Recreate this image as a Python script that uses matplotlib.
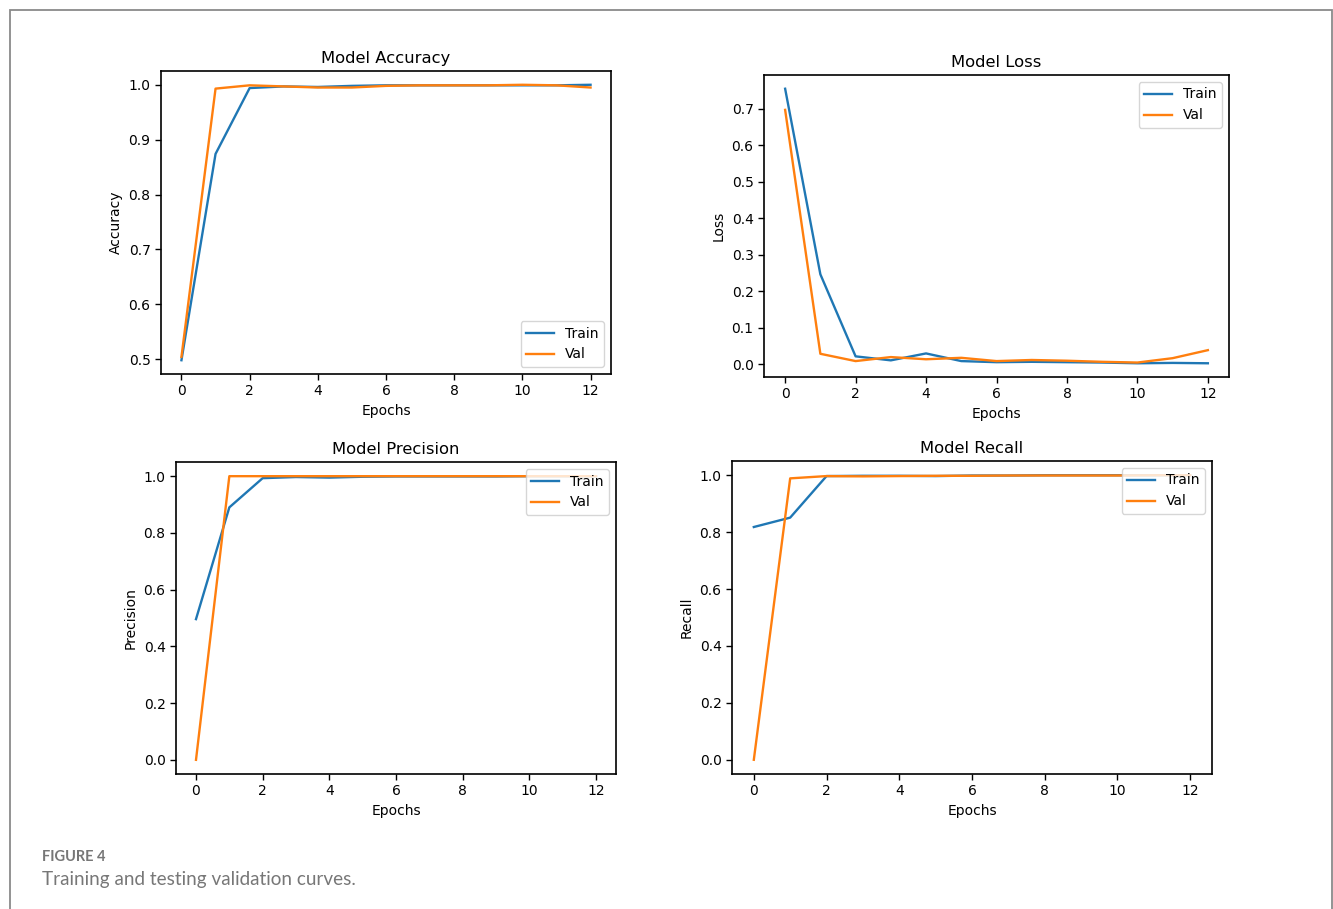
import matplotlib
matplotlib.use("Agg")
import matplotlib.pyplot as plt
from matplotlib.patches import Rectangle

plt.rcParams["font.family"] = ["DejaVu Sans"]

epochs = list(range(13))

acc_train = [0.498, 0.874, 0.994, 0.997, 0.996, 0.998, 0.999, 0.999, 0.999, 0.999, 0.999, 0.999, 1.000]
acc_val   = [0.504, 0.993, 0.999, 0.997, 0.995, 0.995, 0.998, 0.999, 0.999, 0.999, 1.000, 0.999, 0.995]

loss_train = [0.755, 0.246, 0.021, 0.010, 0.029, 0.008, 0.005, 0.006, 0.005, 0.004, 0.002, 0.003, 0.002]
loss_val   = [0.697, 0.028, 0.008, 0.019, 0.013, 0.017, 0.008, 0.011, 0.009, 0.006, 0.004, 0.016, 0.038]

prec_train = [0.496, 0.890, 0.993, 0.997, 0.995, 0.998, 0.999, 0.999, 0.999, 0.999, 1.000, 1.000, 1.000]
prec_val   = [0.000, 1.000, 1.000, 1.000, 1.000, 1.000, 1.000, 1.000, 1.000, 1.000, 1.000, 1.000, 1.000]

rec_train = [0.818, 0.851, 0.997, 0.998, 0.998, 0.997, 0.999, 0.999, 1.000, 1.000, 1.000, 1.000, 1.000]
rec_val   = [0.000, 0.989, 0.997, 0.996, 0.997, 0.998, 0.998, 0.999, 0.999, 0.999, 0.999, 1.000, 1.000]

panels = [
    ("Model Accuracy", "Accuracy", acc_train, acc_val, "lower right", (161, 71, 611, 374)),
    ("Model Loss", "Loss", loss_train, loss_val, "upper right", (764, 75, 1229, 377)),
    ("Model Precision", "Precision", prec_train, prec_val, "upper right", (176, 462, 616, 774)),
    ("Model Recall", "Recall", rec_train, rec_val, "upper right", (732, 461, 1212, 774)),
]

W, H = 1333, 909
fig = plt.figure(figsize=(W / 100, H / 100), dpi=100)

# outer border
fig.add_artist(Rectangle((10 / W, -0.05), (1332 - 10) / W, (H - 10) / H + 0.05,
                         transform=fig.transFigure, fill=False,
                         edgecolor="#8a8a8a", linewidth=1.3))

for title, ylabel, tr, va, loc, (l, t, r, b) in panels:
    ax = fig.add_axes([l / W, 1 - b / H, (r - l) / W, (b - t) / H])
    ax.plot(epochs, tr, color="#1f77b4", linewidth=1.7, label="Train")
    ax.plot(epochs, va, color="#ff7f0e", linewidth=1.7, label="Val")
    ax.set_title(title, fontsize=11.8)
    ax.set_xlabel("Epochs", fontsize=10)
    ax.set_ylabel(ylabel, fontsize=10)
    ax.set_xticks([0, 2, 4, 6, 8, 10, 12])
    ax.tick_params(labelsize=10, width=1.0, length=4)
    for s in ax.spines.values():
        s.set_linewidth(1.2)
    ax.legend(loc=loc, fontsize=10)

fig.text(42 / W, 1 - 857 / H, "FIGURE 4", fontsize=10.5, color="#777777",
         family="Lato", weight="bold", va="center", ha="left")
fig.text(42 / W, 1 - 880 / H, "Training and testing validation curves.", fontsize=13.6,
         color="#777777", family="Lato", va="center", ha="left")

fig.savefig("out.png", dpi=100)
